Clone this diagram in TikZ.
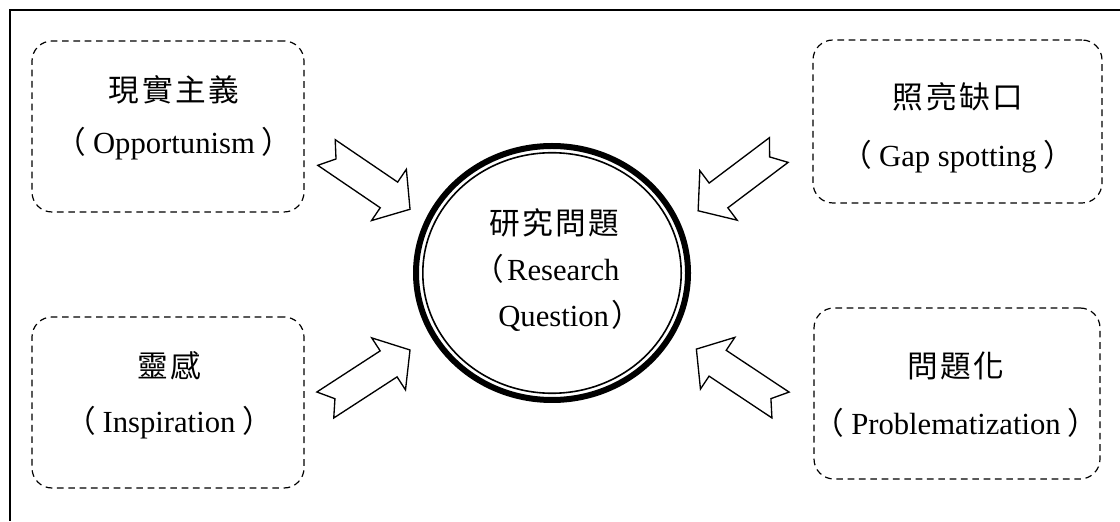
\documentclass[tikz,border=0pt]{standalone}
\usepackage{fontspec}
\setmainfont{Liberation Serif}
\newfontfamily\cjk[LetterSpace=8]{Noto Sans CJK TC}
\newfontfamily\cjkp{Noto Sans CJK TC}
\newcommand\lpar[1][5pt]{{\cjkp （}\kern#1}
\newcommand\rpar[1][5pt]{\kern#1{\cjkp ）}}
\usetikzlibrary{shapes.geometric}
\tikzset{
  frameline/.style={line width=1pt},
  dbox/.style={draw, dash pattern=on 5pt off 3.5pt, line width=0.9pt, rounded corners=15pt, inner sep=0pt},
  lbl/.style={align=center, inner sep=0pt, font=\fontsize{23}{#1}\selectfont},
  arrowline/.style={draw, fill=white, line width=1pt, line join=miter},
  blockarrow/.pic={\path[arrowline] (0,15.5) -- (11.5,0) -- (0,-15.5) -- (75.5,-15.5) -- (75.5,-31) -- (101,0) -- (75.5,31) -- (75.5,15.5) -- cycle;}
}
\begin{document}
\begin{tikzpicture}[x=0.75pt,y=0.75pt]
\useasboundingbox (0,0) rectangle (1120,521);
\fill[white] (0,0) rectangle (1120,521);
% frame (top and left edges)
\coordinate (fa) at (1120,511);
\coordinate (fb) at (10,511);
\coordinate (fc) at (10,0);
\draw[frameline] (fa) -- (fb) -- (fc);
% dashed boxes
\node[dbox, minimum width=204pt, minimum height=128.25pt] (tl) at (168,394.5) {};
\node[dbox, minimum width=204pt, minimum height=128.25pt] (bl) at (168,118.5) {};
\node[dbox, minimum width=216.75pt, minimum height=122.25pt] (tr) at (957.5,399.5) {};
\node[dbox, minimum width=214.5pt, minimum height=128.25pt] (br) at (957,127.5) {};
% labels
\node[lbl=39] (tltext) at (174,403) {{\cjk 現實主義}\\\lpar Opportunism\rpar};
\node[lbl=41] (bltext) at (169,125.6) {{\cjk 靈感}\\\lpar Inspiration\rpar};
\node[lbl=43.5] (trtext) at (958,393.1) {{\cjk 照亮缺口}\\\lpar Gap spotting\rpar};
\node[lbl=43] (brtext) at (956,126.5) {{\cjk 問題化}\\\lpar Problematization\rpar};
% central circle
\node[ellipse, draw, line width=4.5pt, minimum width=204pt, minimum height=190.5pt, inner sep=0pt] (rq) at (552,248) {};
\draw[line width=1.2pt] (rq.center) ellipse [x radius=96.9pt, y radius=90.2pt];
\node[lbl=34.5, align=left, anchor=west] (rqtext) at (473.5,251) {\hspace*{11.6pt}{\cjk 研究問題}\\\lpar[2pt]Research\\\hspace*{18.4pt}Question\rpar[2pt]};
% block arrows
\pic[rotate=-34.2] at (326.5,368.5) {blockarrow};
\pic[rotate=217] at (778.8,371) {blockarrow};
\pic[rotate=33] at (325.3,116) {blockarrow};
\pic[rotate=146.4] at (780.5,116) {blockarrow};
\end{tikzpicture}
\end{document}
